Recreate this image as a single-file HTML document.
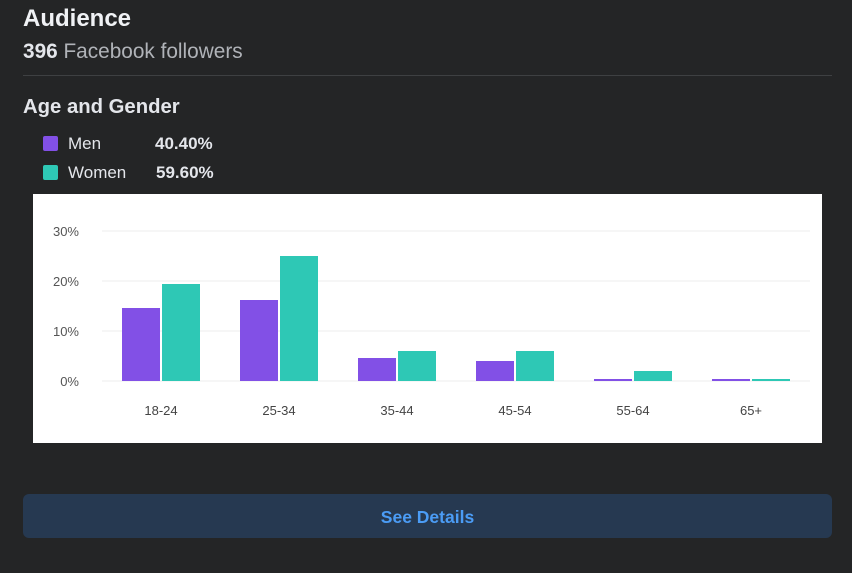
<!DOCTYPE html>
<html><head><meta charset="utf-8"><style>
body{margin:0;width:852px;height:573px;background:#242526;font-family:"Liberation Sans",sans-serif;color:#e4e6eb;position:relative;overflow:hidden}
.abs{position:absolute}
</style></head><body>
<div class="abs" style="left:23px;top:5px;font-size:24px;font-weight:bold;color:#f0f2f5">Audience</div>
<div class="abs" style="left:23px;top:40px;font-size:20.8px;color:#b0b3b8"><b style="color:#e4e6eb">396</b> Facebook followers</div>
<div class="abs" style="left:23px;top:75px;width:809px;height:1px;background:#3e4042"></div>
<div class="abs" style="left:23px;top:96px;font-size:20.3px;font-weight:bold;color:#e4e6eb">Age and Gender</div>
<div class="abs" style="left:43px;top:134px;font-size:17px;height:20px;line-height:20px">
<span style="display:inline-block;width:15px;height:15px;background:#8250e6;border-radius:2px;vertical-align:-2px"></span><span style="position:absolute;left:25px">Men</span><b style="position:absolute;left:112px">40.40%</b></div>
<div class="abs" style="left:43px;top:163px;font-size:17px;height:20px;line-height:20px">
<span style="display:inline-block;width:15px;height:15px;background:#2ec8b5;border-radius:2px;vertical-align:-2px"></span><span style="position:absolute;left:25px;white-space:nowrap">Women</span><b style="position:absolute;left:113px">59.60%</b></div>
<svg class="abs" style="left:33px;top:194px" width="789" height="249">
<rect width="789" height="249" fill="#fff"/>
<g id="g"></g>
</svg>
<div class="abs" style="left:23px;top:494px;width:809px;height:44px;background:#263951;border-radius:6px;color:#4b9cf5;font-size:17.5px;font-weight:bold;text-align:center;line-height:46px">See Details</div>
<script>
const categories=["18-24","25-34","35-44","45-54","55-64","65+"];
const menValues=[14.6,16.2,4.6,4.0,0.4,0.4];
const womenValues=[19.4,25.0,6.0,6.0,2.0,0.4];
const yTicks=[0,10,20,30];
const ns="http://www.w3.org/2000/svg";
const g=document.getElementById("g");
const x0=69,x1=777,y0=187,pxPer=5;
const y=v=>y0-v*pxPer;
const step=(x1-x0)/categories.length;
const cx=i=>x0+step*(i+0.5);
function mk(t,a){const e=document.createElementNS(ns,t);for(const k in a)e.setAttribute(k,a[k]);g.appendChild(e);return e;}
yTicks.forEach(t=>{
const l=mk("line",{x1:x0,x2:x1,y1:y(t),y2:y(t),stroke:"#ececec","stroke-width":1});


const tx=mk("text",{x:46,y:y(t)+5,"text-anchor":"end","font-size":13,fill:"#555","font-family":"Liberation Sans, sans-serif"});
tx.textContent=t+"%";


});
categories.forEach((c,i)=>{
const m=mk("rect",{x:cx(i)-39,y:y(menValues[i]),width:38,height:menValues[i]*pxPer,fill:"#8250e6"});


const w=mk("rect",{x:cx(i)+1,y:y(womenValues[i]),width:38,height:womenValues[i]*pxPer,fill:"#2ec8b5"});


const tx=mk("text",{x:cx(i),y:221,"text-anchor":"middle","font-size":13,fill:"#444","font-family":"Liberation Sans, sans-serif"});
tx.textContent=c;


});
</script>
</body></html>
